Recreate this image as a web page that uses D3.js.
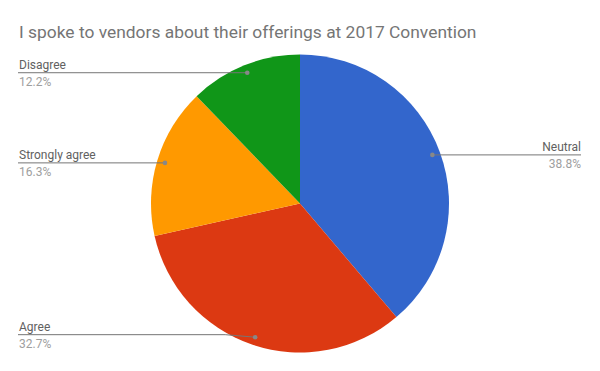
<!DOCTYPE html>
<html><head><meta charset="utf-8">
<script src="https://cdn.jsdelivr.net/npm/d3@7"></script>
<style>body{margin:0;background:#fff;}svg{display:block;font-family:Roboto,sans-serif;}</style>
</head><body>
<svg id="c" width="600" height="371"></svg>
<script>
const title = "I spoke to vendors about their offerings at 2017 Convention";
const categories = ["Neutral", "Agree", "Strongly agree", "Disagree"];
const values = [38.8, 32.7, 16.3, 12.2];
const colors = ["#3366cc", "#dc3912", "#ff9900", "#109618"];

const svg = d3.select("#c");
svg.append("text").attr("x", 19).attr("y", 37.5).attr("font-size", 17.4).attr("fill", "#757575").text(title);

const cx = 300, cy = 203.5, r = 149;
const g = svg.append("g").attr("transform", `translate(${cx},${cy})`);
const data = categories.map((c, i) => ({cat: c, v: values[i], color: colors[i]}));
const pie = d3.pie().value(d => d.v).sort(null);
const arcs = pie(data);
const arc = d3.arc().innerRadius(0).outerRadius(r);
g.selectAll("path").data(arcs).join("path").attr("d", arc).attr("fill", d => d.data.color);

const dotR = 141;
arcs.forEach(a => {
  const m = (a.startAngle + a.endAngle) / 2;
  const px = cx + dotR * Math.sin(m), py = cy - dotR * Math.cos(m);
  const right = Math.sin(m) > 0;
  const lineY = a.data.cat === "Agree" ? py - 2.5 : py;
  const endX = right ? 581 : 18;
  let pts;
  if (a.data.cat === "Agree") pts = [[endX, lineY], [px - 30, lineY], [px, py]];
  else pts = [[endX, lineY], [px, py]];
  svg.append("path").attr("d", d3.line()(pts)).attr("fill", "none").attr("stroke", "#757575").attr("stroke-width", 1);
  svg.append("circle").attr("cx", px).attr("cy", py).attr("r", 2.3).attr("fill", "#888");
  const tx = right ? 581 : 19;
  const anchor = right ? "end" : "start";
  svg.append("text").attr("x", tx).attr("y", lineY - 4).attr("text-anchor", anchor)
    .attr("font-size", 12).attr("fill", "#616161").text(a.data.cat);
  svg.append("text").attr("x", tx).attr("y", lineY + 13.5).attr("text-anchor", anchor)
    .attr("font-size", 12).attr("fill", "#9e9e9e").text(a.data.v.toFixed(1) + "%");
});
</script>
</body></html>
